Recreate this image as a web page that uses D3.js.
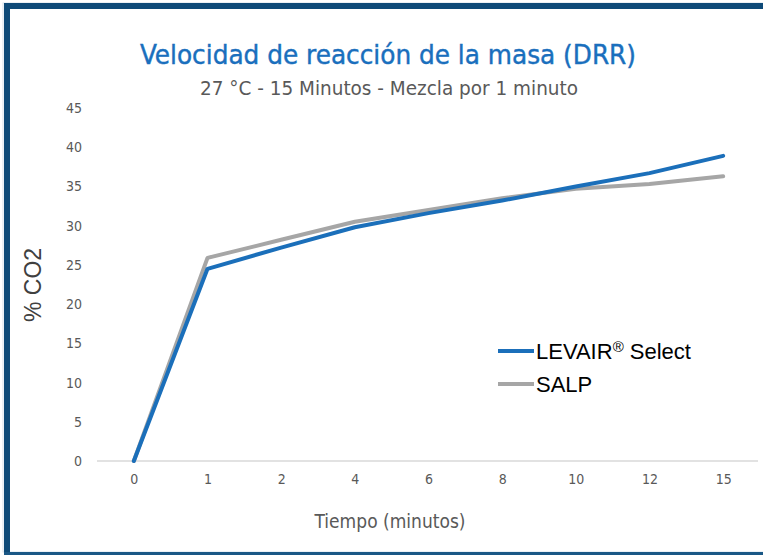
<!DOCTYPE html>
<html>
<head>
<meta charset="utf-8">
<script src="https://cdn.jsdelivr.net/npm/d3@7"></script>
<style>
  body { margin: 0; background: #fff; }
  svg { display: block; }
</style>
</head>
<body>
<div id="chart"></div>
<script>
// CO2 release over time, two leavening agents

const minutes = ["0", "1", "2", "4", "6", "8", "10", "12", "15"];
const levairValues = [0, 24.5, 27.2, 29.8, 31.6, 33.2, 35.0, 36.7, 38.9];
const salpValues   = [0, 25.9, 28.2, 30.5, 32.0, 33.5, 34.7, 35.3, 36.3];
const yTicks = [0, 5, 10, 15, 20, 25, 30, 35, 40, 45];

const series = [
    { name: "LEVAIR", mark: "®", suffix: " Select", values: levairValues, color: "#1b6fba" },
    { name: "SALP", mark: "", suffix: "", values: salpValues, color: "#a6a6a6" }
];

const width = 763, height = 555;
const condensed = "'DejaVu Sans Condensed', 'Liberation Sans Narrow', 'DejaVu Sans', sans-serif";

const svg = d3.select("#chart").append("svg")
    .attr("width", width)
    .attr("height", height);

// frame
svg.append("rect")
    .attr("x", 3).attr("y", 3)
    .attr("width", width + 10).attr("height", 549)
    .attr("fill", "none")
    .attr("stroke", "#d6e2ec")
    .attr("stroke-width", 1);
svg.append("rect").attr("x", 4).attr("y", 3).attr("width", width - 4).attr("height", 6).attr("fill", "#0e4a78");
svg.append("rect").attr("x", 4).attr("y", 3).attr("width", 6).attr("height", 552).attr("fill", "#0e4a78");
svg.append("rect").attr("x", 4).attr("y", 552).attr("width", width - 4).attr("height", 3).attr("fill", "#1a5886");

// scales
const x = d3.scalePoint()
    .domain(minutes)
    .range([97, 760])
    .padding(0.5);

const y = d3.scaleLinear()
    .domain([0, 45])
    .range([461, 108]);

// titles
svg.append("text")
    .attr("x", 388).attr("y", 64)
    .attr("text-anchor", "middle")
    .attr("font-family", condensed)
    .attr("font-size", 27)
    .attr("fill", "#1a6fbd")
    .attr("stroke", "#1a6fbd")
    .attr("stroke-width", 0.4)
    .attr("textLength", 496)
    .attr("lengthAdjust", "spacingAndGlyphs")
    .text("Velocidad de reacción de la masa (DRR)");

svg.append("text")
    .attr("x", 389).attr("y", 95)
    .attr("text-anchor", "middle")
    .attr("font-family", condensed)
    .attr("font-size", 19)
    .attr("fill", "#595959")
    .attr("textLength", 378)
    .attr("lengthAdjust", "spacingAndGlyphs")
    .text("27 °C - 15 Minutos - Mezcla por 1 minuto");

// y axis
const yAxis = svg.append("g")
    .attr("transform", "translate(97,0)")
    .call(d3.axisLeft(y).tickValues(yTicks).tickSize(0).tickPadding(15));
yAxis.select(".domain").remove();
yAxis.selectAll("text")
    .attr("font-family", condensed)
    .attr("font-size", 14)
    .attr("fill", "#595959");

// x axis
const xAxis = svg.append("g")
    .attr("transform", "translate(0,461)")
    .call(d3.axisBottom(x).tickSize(0).tickPadding(13));
xAxis.select(".domain")
    .attr("stroke", "#d9d9d9")
    .attr("stroke-width", 1.5)
    .attr("d", "M97,0H758");
xAxis.selectAll("text")
    .attr("font-family", condensed)
    .attr("font-size", 14)
    .attr("fill", "#595959");

// axis titles
svg.append("text")
    .attr("x", 390).attr("y", 528)
    .attr("text-anchor", "middle")
    .attr("font-family", condensed)
    .attr("font-size", 19)
    .attr("fill", "#595959")
    .text("Tiempo (minutos)");

svg.append("text")
    .attr("transform", "translate(41,285) rotate(-90)")
    .attr("text-anchor", "middle")
    .attr("font-family", "'Liberation Sans', Arial, sans-serif")
    .attr("font-size", 23)
    .attr("fill", "#404040")
    .text("% CO2");

// lines (grey drawn first, blue on top)
const line = d3.line()
    .x((d, i) => x(minutes[i]))
    .y(d => y(d));

series.slice().reverse().forEach(s => {
    svg.append("path")
        .datum(s.values)
        .attr("fill", "none")
        .attr("stroke", s.color)
        .attr("stroke-width", 4)
        .attr("stroke-linejoin", "round")
        .attr("stroke-linecap", "round")
        .attr("d", line);
});

// legend
const legend = svg.append("g").attr("transform", "translate(498,351)");
series.forEach((s, i) => {
    const row = legend.append("g").attr("transform", `translate(0, ${i * 33})`);
    row.append("line")
        .attr("x1", 0).attr("x2", 36)
        .attr("stroke", s.color)
        .attr("stroke-width", 4);
    const t = row.append("text")
        .attr("x", 38).attr("y", 8)
        .attr("font-family", "'Liberation Sans', Arial, sans-serif")
        .attr("font-size", 22)
        .attr("fill", "#000");
    t.append("tspan").text(s.name);
    if (s.mark) {
        t.append("tspan").attr("font-size", 15).attr("dy", -7).text(s.mark);
        t.append("tspan").attr("dy", 7).text(s.suffix);
    }
});
</script>
</body>
</html>
